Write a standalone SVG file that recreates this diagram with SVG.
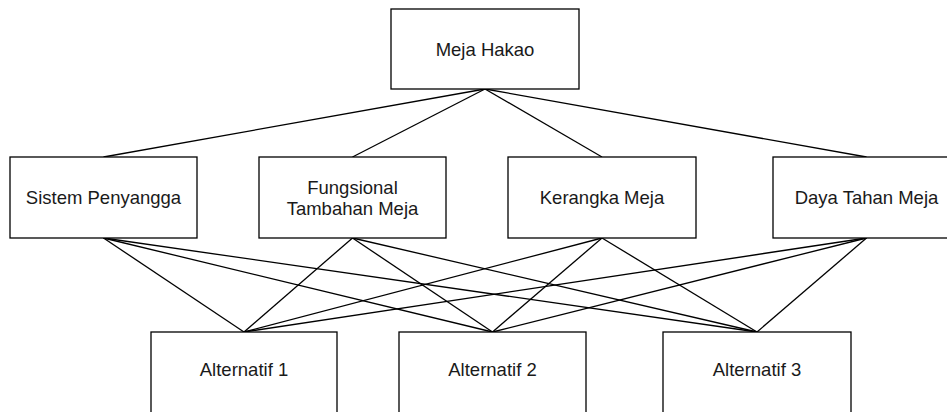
<svg xmlns="http://www.w3.org/2000/svg" width="947" height="412" viewBox="0 0 947 412">
<style>
.box{fill:#fff;stroke:#000;stroke-width:1.3}
.lbl{font-family:"Liberation Sans",Arial,sans-serif;font-size:18.5px;fill:#1a1a1a;text-anchor:middle}
.con line{stroke:#000;stroke-width:1.3}
</style>
<rect width="947" height="412" fill="#fff"/>
<g id="connectors" class="con">
<line x1="485" y1="89" x2="103.5" y2="157"/>
<line x1="485" y1="89" x2="352.5" y2="157"/>
<line x1="485" y1="89" x2="602" y2="157"/>
<line x1="485" y1="89" x2="866.5" y2="157"/>
<line x1="103.5" y1="238" x2="244" y2="332"/>
<line x1="103.5" y1="238" x2="492.5" y2="332"/>
<line x1="103.5" y1="238" x2="757" y2="332"/>
<line x1="352.5" y1="238" x2="244" y2="332"/>
<line x1="352.5" y1="238" x2="492.5" y2="332"/>
<line x1="352.5" y1="238" x2="757" y2="332"/>
<line x1="602" y1="238" x2="244" y2="332"/>
<line x1="602" y1="238" x2="492.5" y2="332"/>
<line x1="602" y1="238" x2="757" y2="332"/>
<line x1="866.5" y1="238" x2="244" y2="332"/>
<line x1="866.5" y1="238" x2="492.5" y2="332"/>
<line x1="866.5" y1="238" x2="757" y2="332"/>
</g>
<g id="meja-hakao"><rect class="box" x="391" y="9" width="188" height="80"/><text class="lbl" x="485" y="55.5">Meja Hakao</text></g>
<g id="sistem-penyangga"><rect class="box" x="10" y="157" width="187" height="81"/><text class="lbl" x="103.5" y="204">Sistem Penyangga</text></g>
<g id="fungsional"><rect class="box" x="259" y="157" width="187" height="81"/><text class="lbl" x="352.5" y="193.5">Fungsional</text><text class="lbl" x="352.5" y="215">Tambahan Meja</text></g>
<g id="kerangka-meja"><rect class="box" x="508" y="157" width="188" height="81"/><text class="lbl" x="602" y="204">Kerangka Meja</text></g>
<g id="daya-tahan-meja"><rect class="box" x="773" y="157" width="187" height="81"/><text class="lbl" x="866.5" y="204">Daya Tahan Meja</text></g>
<g id="alternatif-1"><rect class="box" x="151" y="332" width="186" height="81"/><text class="lbl" x="244" y="376">Alternatif 1</text></g>
<g id="alternatif-2"><rect class="box" x="399" y="332" width="187" height="81"/><text class="lbl" x="492.5" y="376">Alternatif 2</text></g>
<g id="alternatif-3"><rect class="box" x="663" y="332" width="188" height="81"/><text class="lbl" x="757" y="376">Alternatif 3</text></g>
</svg>
